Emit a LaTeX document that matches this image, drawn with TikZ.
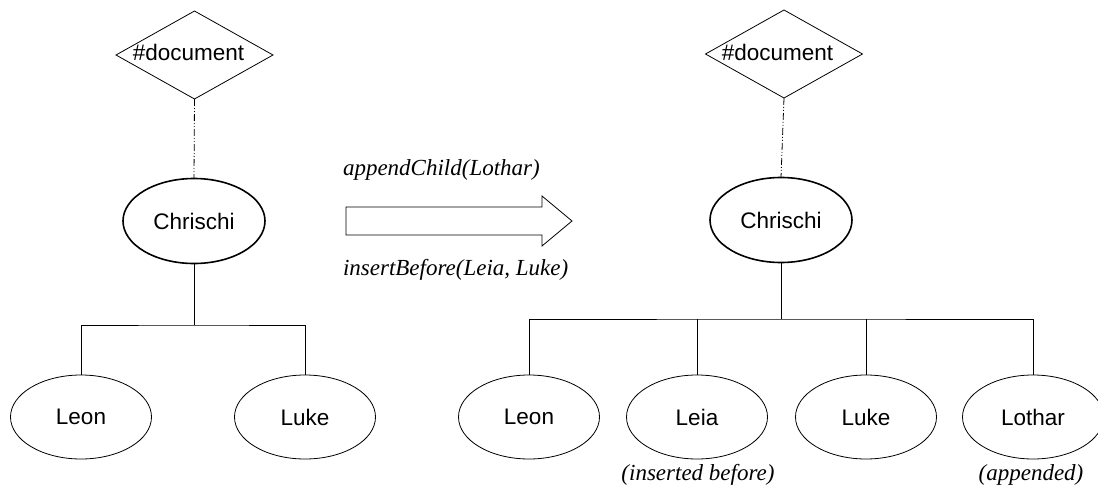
\documentclass[tikz,border=0pt]{standalone}
\usepackage{fontspec}
\setmainfont{Liberation Sans}
\newfontfamily\opfont{Liberation Serif}
\usetikzlibrary{shapes.geometric}
\begin{document}
\begin{tikzpicture}[x=1pt,y=-1pt,
  every node/.style={inner sep=0pt, outer sep=0pt},
  docnode/.style={draw, diamond, minimum width=157pt, minimum height=88pt, line width=0.8pt},
  doctext/.style={anchor=base, font=\fontsize{22.5}{26}\selectfont},
  rootnode/.style={draw, ellipse, minimum width=142pt, minimum height=85pt, line width=1.6pt, font=\fontsize{22.5}{26}\selectfont},
  kidnode/.style={draw, ellipse, minimum width=141pt, minimum height=84pt, line width=0.8pt, font=\fontsize{22.5}{26}\selectfont},
  link/.style={line width=0.8pt},
  doclink/.style={line width=0.8pt, dash pattern=on 7pt off 2pt on 1pt off 2pt on 1pt off 2pt},
  optext/.style={font=\opfont\itshape\fontsize{23}{27}\selectfont},
  opbox/.style={draw, line width=0.8pt, fill=white}]
\useasboundingbox (0,0) rectangle (1098,487);

% ---- tree before the operations ----
\node[docnode] (docL) at (194.5,55) {};
\node[doctext] (docLt) at (188.5,60) {\#document};
\node[rootnode] (chL) at (194,221) {Chrischi};
\node[kidnode] (leonL) at (81,417) {Leon};
\node[kidnode] (lukeL) at (305,417) {Luke};
\coordinate (busL) at (chL.south |- 0,325);

\draw[doclink] (docL.south) -- (chL.north);
\draw[link] (chL.south) -- (busL);
\draw[link] (leonL.north) |- (busL) -| (lukeL.north);

% ---- the operations ----
\draw[opbox] (346,207) -- (542,207) -- (542,196) -- (572,221)
  -- (542,246) -- (542,235) -- (346,235) -- cycle;
\node[optext, anchor=base west] (opappend) at (343,175) {appendChild(Lothar)};
\node[optext, anchor=base west] (opinsert) at (343,275) {insertBefore(Leia, Luke)};

% ---- tree after the operations ----
\node[docnode] (docR) at (784,54) {};
\node[doctext] (docRt) at (777.5,60) {\#document};
\node[rootnode] (chR) at (781,220) {Chrischi};
\node[kidnode] (leonR) at (529,417) {Leon};
\node[kidnode] (leiaR) at (697,417) {Leia};
\node[kidnode] (lukeR) at (866,417) {Luke};
\node[kidnode] (lotharR) at (1033,417) {Lothar};
\coordinate (busR) at (chR.south |- 0,319);

\draw[doclink] (docR.south) -- (chR.north);
\draw[link] (chR.south) -- (busR);
\draw[link] (leonR.north) |- (busR) -| (lotharR.north);
\draw[link] (leiaR.north) -- (leiaR.north |- busR);
\draw[link] (lukeR.north) -- (lukeR.north |- busR);

\node[optext, anchor=base] (noteleia) at (698,480) {(inserted before)};
\node[optext, anchor=base] (notelothar) at (1031,480) {(appended)};
\end{tikzpicture}
\end{document}
